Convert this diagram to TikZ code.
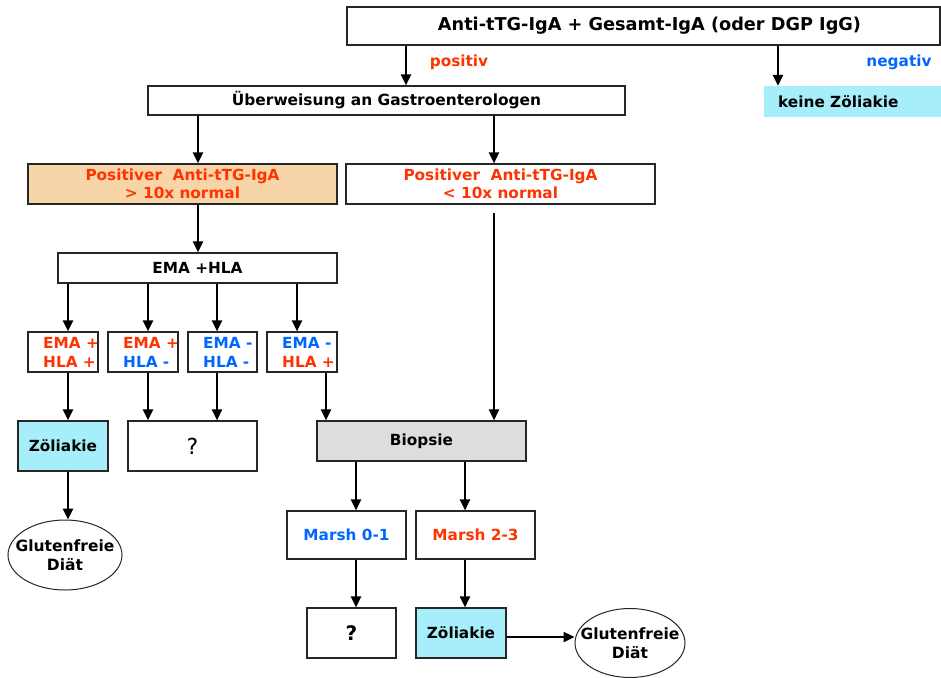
\documentclass[tikz,border=0pt]{standalone}
\usepackage{fontspec}
\setmainfont{DejaVu Sans}
\usetikzlibrary{arrows.meta,shapes.geometric}
\definecolor{cred}{HTML}{FF3300}
\definecolor{cblue}{HTML}{0066FF}
\definecolor{ccyan}{HTML}{A6EEFA}
\definecolor{corange}{HTML}{F8D5A8}
\definecolor{cgray}{HTML}{DDDDDD}
\tikzset{
  box/.style={draw=black!85, line width=1.1pt, inner sep=0pt, font=\bfseries\fontsize{15.3}{18.5}\selectfont, align=center, fill=white},
  arr/.style={line width=2.4pt, -{Triangle[length=11pt,width=10pt]}},
  oval/.style={draw=black!85, line width=1pt, ellipse, inner sep=0pt, fill=white},
  ovaltext/.style={font=\bfseries\fontsize{15.5}{18.5}\selectfont, align=center, inner sep=0pt},
  lbl/.style={font=\bfseries\fontsize{15.3}{18}\selectfont, inner sep=0pt},
  small/.style={font=\bfseries\fontsize{15.3}{19}\selectfont, inner sep=0pt, align=left, anchor=west},
}
\begin{document}
\begin{tikzpicture}[x=1pt,y=-1pt]
\useasboundingbox (0,0) rectangle (941,677);
% columns
\coordinate (x68) at (68,0);
\coordinate (x148) at (148,0);
\coordinate (x198) at (198,0);
\coordinate (x218) at (217,0);
\coordinate (x297) at (297,0);
\coordinate (x326) at (326,0);
\coordinate (x356) at (356,0);
\coordinate (x406) at (406,0);
\coordinate (x465) at (465,0);
\coordinate (x494) at (494,0);
\coordinate (x778) at (778,0);
\coordinate (y637) at (0,637);

\node[box, minimum width=593pt, minimum height=38pt, font=\bfseries\fontsize{17.7}{20}\selectfont] (top) at (643.5,26) {\makebox[0pt]{\hspace{12pt}Anti-tTG-IgA + Gesamt-IgA (oder DGP IgG)}};
\node[box, minimum width=477pt, minimum height=29pt, font=\bfseries\fontsize{15.4}{18}\selectfont] (ub) at (386.5,100.5) {Überweisung an Gastroenterologen};
\node[fill=ccyan, minimum width=177pt, minimum height=31pt, inner sep=0pt] (kz) at (852.5,101.5) {};
\node[lbl, anchor=west] (kzt) at (778,102) {keine Zöliakie};

\node[lbl, text=cred] (pos) at (459,62) {positiv};
\node[lbl, text=cblue] (neg) at (899,62) {negativ};

\node[box, fill=corange, text=cred, minimum width=309pt, minimum height=40pt] (or) at (182.5,184) {Positiver\ \ Anti-tTG-IgA\\> 10x normal};
\node[box, text=cred, minimum width=309pt, minimum height=40pt] (rb) at (500.5,184) {Positiver\ \ Anti-tTG-IgA\\< 10x normal};
\coordinate (gap) at (494,213);

\node[box, minimum width=279pt, minimum height=30pt] (ema) at (197.5,268) {EMA +HLA};

\node[box, minimum width=70pt, minimum height=40pt] (s1) at (63,352) {};
\node[box, minimum width=70pt, minimum height=40pt] (s2) at (143,352) {};
\node[box, minimum width=69pt, minimum height=40pt] (s3) at (222.5,352) {};
\node[box, minimum width=70pt, minimum height=40pt] (s4) at (302,352) {};
\node[small] (t1) at (43,352.5) {\textcolor{cred}{EMA +}\\\textcolor{cred}{HLA +}};
\node[small] (t2) at (123,352.5) {\textcolor{cred}{EMA +}\\\textcolor{cblue}{HLA -}};
\node[small] (t3) at (203,352.5) {\textcolor{cblue}{EMA -}\\\textcolor{cblue}{HLA -}};
\node[small] (t4) at (282,352.5) {\textcolor{cblue}{EMA -}\\\textcolor{cred}{HLA +}};

\node[box, fill=ccyan, minimum width=90pt, minimum height=50pt] (z1) at (63,446) {Zöliakie};
\node[box, minimum width=129pt, minimum height=50pt, font=\fontsize{22}{24}\selectfont] (q1) at (192.5,446) {?};
\node[box, fill=cgray, minimum width=209pt, minimum height=40pt] (bio) at (421.5,441) {Biopsie};

\node[oval, minimum width=114pt, minimum height=70pt] (e1) at (65,555) {};
\node[ovaltext] (e1t) at (e1.center) {Glutenfreie\\Diät};

\node[box, text=cblue, minimum width=119pt, minimum height=48pt] (m1) at (346.5,535) {Marsh 0-1};
\node[box, text=cred, minimum width=119pt, minimum height=48pt] (m2) at (475.5,535) {Marsh 2-3};

\node[box, minimum width=89pt, minimum height=50pt, font=\bfseries\fontsize{20}{22}\selectfont] (q2) at (351.5,633) {?};
\node[box, fill=ccyan, minimum width=90pt, minimum height=50pt] (z2) at (461,633) {Zöliakie};
\node[oval, minimum width=110pt, minimum height=69pt] (e2) at (630,643) {};
\node[ovaltext] (e2t) at (e2.center) {Glutenfreie\\Diät};

% connectors
\draw[arr] (top.south -| x406) -- (ub.north -| x406);
\draw[arr] (top.south -| x778) -- (kz.north -| x778);
\draw[arr] (ub.south -| x198) -- (or.north -| x198);
\draw[arr] (ub.south -| x494) -- (rb.north -| x494);
\draw[arr] (or.south -| x198) -- (ema.north -| x198);
\draw[arr] (gap) -- (bio.north -| x494);
\draw[arr] (ema.south -| x68) -- (s1.north -| x68);
\draw[arr] (ema.south -| x148) -- (s2.north -| x148);
\draw[arr] (ema.south -| x218) -- (s3.north -| x218);
\draw[arr] (ema.south -| x297) -- (s4.north -| x297);
\draw[arr] (s1.south -| x68) -- (z1.north -| x68);
\draw[arr] (s2.south -| x148) -- (q1.north -| x148);
\draw[arr] (s3.south -| x218) -- (q1.north -| x218);
\draw[arr] (s4.south -| x326) -- (bio.north -| x326);
\draw[arr] (z1.south -| x68) -- (e1.north -| x68);
\draw[arr] (bio.south -| x356) -- (m1.north -| x356);
\draw[arr] (bio.south -| x465) -- (m2.north -| x465);
\draw[arr] (m1.south -| x356) -- (q2.north -| x356);
\draw[arr] (m2.south -| x465) -- (z2.north -| x465);
\draw[arr] (z2.east |- y637) -- (e2.west |- y637);
\end{tikzpicture}
\end{document}
